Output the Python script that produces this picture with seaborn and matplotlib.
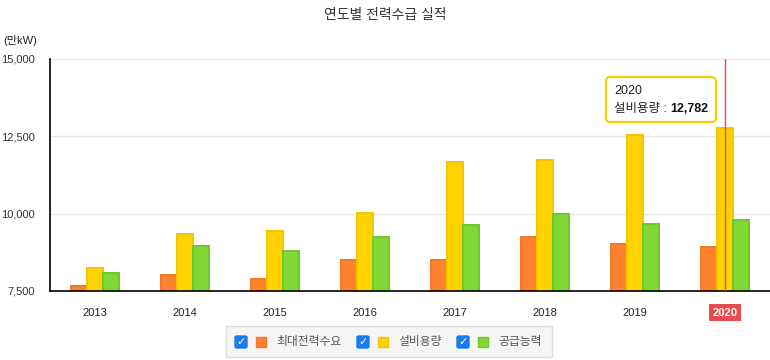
import matplotlib
matplotlib.use("Agg")
import matplotlib.pyplot as plt
from matplotlib.patches import FancyBboxPatch, Rectangle
from matplotlib.offsetbox import TextArea, HPacker, VPacker, AnnotationBbox
import seaborn as sns
import pandas as pd

years = ['2013', '2014', '2015', '2016', '2017', '2018', '2019', '2020']
peak = [7652, 8015, 7879, 8518, 8513, 9248, 9031, 8909]
capacity = [8234, 9343, 9440, 10013, 11672, 11737, 12545, 12782]
supply = [8082, 8955, 8794, 9246, 9634, 9990, 9667, 9796]
series = ['최대전력수요', '설비용량', '공급능력']

fills = ['#FF832F', '#FFD200', '#80D835']
edges = ['#F47725', '#F2C500', '#72C72A']

df = pd.DataFrame({
    'year': years * 3,
    'value': peak + capacity + supply,
    'kind': [series[0]] * 8 + [series[1]] * 8 + [series[2]] * 8,
})

sns.set_style('white')
plt.rcParams['font.family'] = ['Liberation Sans', 'Noto Sans CJK KR', 'DejaVu Sans']

fig = plt.figure(figsize=(7.7, 3.6), dpi=100)
ax = fig.add_axes([50 / 770, 1 - 291 / 360, 720 / 770, 232 / 360])

sns.barplot(data=df, x='year', y='value', hue='kind', hue_order=series,
            palette=fills, width=0.54, gap=0, legend=False, ax=ax,
            linewidth=1.4, saturation=1)
for cont, ec in zip(ax.containers, edges):
    for p in cont:
        p.set_edgecolor(ec)

ax.set_ylim(7500, 15000)
ax.set_xlim(-0.5, 7.5)
ax.set_yticks([7500, 10000, 12500, 15000])
ax.set_yticklabels(['7,500', '10,000', '12,500', '15,000'])
ax.yaxis.grid(True, color='#E8E8E8', linewidth=1)
ax.set_axisbelow(True)
ax.set_xlabel('')
ax.set_ylabel('')
for s in ['top', 'right']:
    ax.spines[s].set_visible(False)
ax.spines['left'].set_color('black')
ax.spines['bottom'].set_color('black')
ax.spines['left'].set_linewidth(1.2)
ax.spines['bottom'].set_linewidth(1.2)
ax.tick_params(axis='y', length=0, pad=11, labelsize=8, labelcolor='#333333')
ax.tick_params(axis='x', length=0, pad=12, labelsize=8, labelcolor='#222222')

lab = ax.get_xticklabels()[-1]
lab.set_color('white')
lab.set_fontweight('bold')
lab.set_bbox(dict(facecolor='#E84A4F', edgecolor='none', pad=2.5))

# hover line + tooltip on 2020
ax.axvline(7, color='#F0484F', linewidth=1, zorder=5)
t1 = TextArea('2020', textprops=dict(fontsize=9, color='#222222'))
t2 = TextArea('설비용량 : ', textprops=dict(fontsize=9, color='#222222'))
t3 = TextArea(f'{capacity[-1]:,}', textprops=dict(fontsize=9, color='#111111', fontweight='bold'))
box = VPacker(children=[t1, HPacker(children=[t2, t3], pad=0, sep=0)], pad=0, sep=4, align='left')
ab = AnnotationBbox(box, (6.29, 13680), xycoords='data', frameon=True, box_alignment=(0.5, 0.5),
                    pad=0.5, bboxprops=dict(boxstyle='round,pad=0.55,rounding_size=0.3',
                                            edgecolor='#FFCC00', linewidth=1.6, facecolor='white'))
ax.add_artist(ab)

fig.text(0.5, 1 - 15 / 360, '연도별 전력수급 실적', ha='center', va='center', fontsize=10, color='#333333')
fig.text(3 / 770, 1 - 41 / 360, '(만kW)', ha='left', va='center', fontsize=8, color='#222222')

# legend bar with checkboxes
W, H = 770, 360
def fx(x):
    return x / W
def fy(y):
    return 1 - y / H

fig.patches.append(Rectangle((fx(226), fy(357)), fx(326), 31 / H, transform=fig.transFigure,
                             facecolor='#F5F5F5', edgecolor='#DDDDDD', linewidth=1))
items = [(235, 256, 276), (357, 378, 398), (457, 478, 498)]
for (cx, sx, tx), name, fc, ec in zip(items, series, fills, edges):
    fig.patches.append(FancyBboxPatch((fx(cx), fy(348)), 12 / W, 12 / H, transform=fig.transFigure,
                                      boxstyle='round,pad=0,rounding_size=0.003',
                                      facecolor='#1A7BF0', edgecolor='#1A7BF0'))
    fig.text(fx(cx + 6), fy(342), '✓', ha='center', va='center', fontsize=8, color='white',
             fontweight='bold', family='DejaVu Sans')
    fig.patches.append(Rectangle((fx(sx), fy(347)), 10 / W, 10 / H, transform=fig.transFigure,
                                 facecolor=fc, edgecolor=ec, linewidth=1))
    fig.text(fx(tx), fy(342), name, ha='left', va='center', fontsize=8.5, color='#555555')

fig.savefig('out.png', dpi=100)
